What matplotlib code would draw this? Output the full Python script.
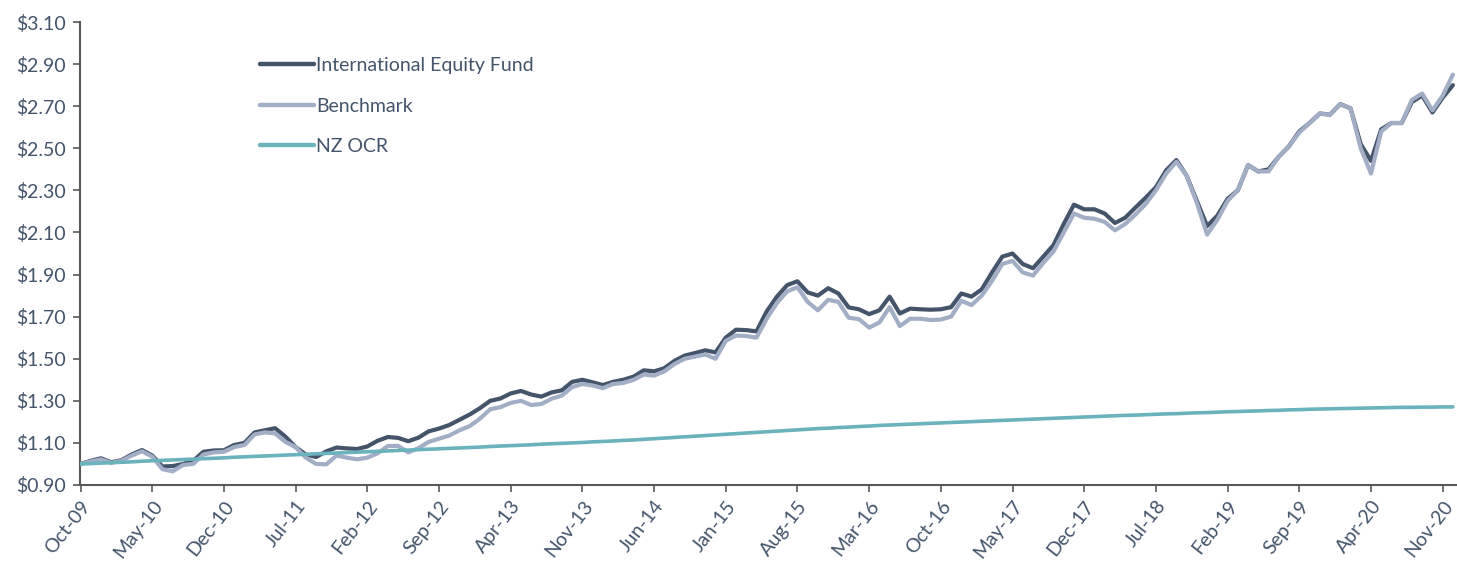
import matplotlib
matplotlib.use("Agg")
import matplotlib.pyplot as plt
import numpy as np

# Monthly index values, Oct-09 .. Dec-20
fund = [1.000, 1.015, 1.027, 1.008, 1.018, 1.045, 1.066, 1.040, 0.988, 0.990, 1.000, 1.015,
        1.058, 1.064, 1.065, 1.090, 1.100, 1.150, 1.160, 1.170, 1.130, 1.080, 1.045, 1.033,
        1.060, 1.078, 1.074, 1.071, 1.083, 1.110, 1.128, 1.124, 1.108, 1.125, 1.155, 1.168,
        1.185, 1.210, 1.235, 1.265, 1.300, 1.311, 1.335, 1.347, 1.330, 1.320, 1.340, 1.350,
        1.390, 1.400, 1.388, 1.375, 1.390, 1.400, 1.415, 1.445, 1.440, 1.455, 1.490, 1.515,
        1.527, 1.540, 1.530, 1.600, 1.638, 1.636, 1.630, 1.725, 1.795, 1.850, 1.868, 1.815,
        1.800, 1.835, 1.810, 1.744, 1.735, 1.712, 1.730, 1.795, 1.715, 1.738, 1.735, 1.733,
        1.735, 1.745, 1.810, 1.795, 1.830, 1.910, 1.985, 2.000, 1.950, 1.930, 1.985, 2.040,
        2.140, 2.232, 2.210, 2.210, 2.190, 2.145, 2.170, 2.218, 2.265, 2.315, 2.395, 2.444,
        2.370, 2.250, 2.130, 2.180, 2.260, 2.300, 2.420, 2.390, 2.400, 2.460, 2.510, 2.580,
        2.620, 2.665, 2.660, 2.710, 2.690, 2.520, 2.440, 2.590, 2.620, 2.620, 2.720, 2.750,
        2.670, 2.740, 2.800]

benchmark = [1.000, 1.012, 1.022, 1.005, 1.015, 1.040, 1.060, 1.035, 0.975, 0.965, 0.995, 1.000,
             1.045, 1.055, 1.058, 1.080, 1.090, 1.140, 1.150, 1.145, 1.105, 1.080, 1.030, 1.000,
             0.998, 1.040, 1.030, 1.022, 1.030, 1.050, 1.085, 1.086, 1.055, 1.075, 1.105, 1.120,
             1.135, 1.160, 1.180, 1.215, 1.260, 1.270, 1.290, 1.300, 1.280, 1.285, 1.310, 1.325,
             1.365, 1.380, 1.373, 1.360, 1.380, 1.385, 1.400, 1.425, 1.420, 1.440, 1.475, 1.500,
             1.510, 1.520, 1.500, 1.585, 1.610, 1.608, 1.600, 1.690, 1.765, 1.820, 1.840, 1.770,
             1.730, 1.780, 1.770, 1.695, 1.688, 1.648, 1.672, 1.745, 1.655, 1.690, 1.690, 1.684,
             1.686, 1.700, 1.775, 1.755, 1.800, 1.870, 1.950, 1.965, 1.910, 1.895, 1.955, 2.010,
             2.100, 2.190, 2.170, 2.165, 2.150, 2.110, 2.140, 2.185, 2.235, 2.300, 2.380, 2.436,
             2.370, 2.240, 2.090, 2.160, 2.250, 2.300, 2.420, 2.390, 2.390, 2.460, 2.510, 2.575,
             2.620, 2.665, 2.660, 2.710, 2.690, 2.500, 2.380, 2.580, 2.620, 2.620, 2.730, 2.760,
             2.680, 2.750, 2.850]

nz_ocr = [1.000, 1.002, 1.004, 1.006, 1.008, 1.010, 1.013, 1.015, 1.017, 1.019, 1.021, 1.023,
          1.025, 1.027, 1.029, 1.032, 1.034, 1.036, 1.038, 1.040, 1.042, 1.044, 1.046, 1.048,
          1.050, 1.052, 1.054, 1.056, 1.058, 1.060, 1.062, 1.064, 1.066, 1.068, 1.070, 1.072,
          1.074, 1.076, 1.078, 1.080, 1.083, 1.085, 1.087, 1.089, 1.091, 1.094, 1.096, 1.098,
          1.100, 1.102, 1.105, 1.107, 1.109, 1.112, 1.114, 1.117, 1.120, 1.123, 1.126, 1.129,
          1.132, 1.135, 1.138, 1.141, 1.144, 1.147, 1.150, 1.153, 1.156, 1.159, 1.162, 1.165,
          1.168, 1.170, 1.173, 1.175, 1.178, 1.180, 1.183, 1.185, 1.187, 1.189, 1.191, 1.193,
          1.195, 1.197, 1.199, 1.201, 1.203, 1.205, 1.207, 1.209, 1.211, 1.213, 1.215, 1.217,
          1.219, 1.221, 1.223, 1.225, 1.227, 1.229, 1.231, 1.232, 1.234, 1.236, 1.238, 1.239,
          1.241, 1.243, 1.244, 1.246, 1.248, 1.249, 1.251, 1.252, 1.254, 1.255, 1.257, 1.258,
          1.260, 1.261, 1.262, 1.263, 1.264, 1.265, 1.266, 1.267, 1.268, 1.269, 1.269, 1.270,
          1.270, 1.271, 1.271]

tick_labels = ["Oct-09", "May-10", "Dec-10", "Jul-11", "Feb-12", "Sep-12", "Apr-13", "Nov-13",
               "Jun-14", "Jan-15", "Aug-15", "Mar-16", "Oct-16", "May-17", "Dec-17", "Jul-18",
               "Feb-19", "Sep-19", "Apr-20", "Nov-20"]
y_ticks = [0.90, 1.10, 1.30, 1.50, 1.70, 1.90, 2.10, 2.30, 2.50, 2.70, 2.90, 3.10]

TEXT = "#44546A"
FUND_C = "#44546A"
BENCH_C = "#A2ADC6"
OCR_C = "#6AB2BC"
AXIS_C = "#595959"

plt.rcParams['font.family'] = ['Lato', 'DejaVu Sans']

fig = plt.figure(figsize=(14.57, 5.63), dpi=100)
ax = fig.add_axes([80 / 1457, 1 - 485 / 563, 1 - 80 / 1457, (485 - 22) / 563])

x = np.arange(len(fund))
ax.plot(x, fund, color=FUND_C, lw=3.0, solid_joinstyle='round', solid_capstyle='round',
        label="International Equity Fund", zorder=3)
ax.plot(x, benchmark, color=BENCH_C, lw=3.0, solid_joinstyle='round', solid_capstyle='round',
        label="Benchmark", zorder=4)
ax.plot(x, nz_ocr, color=OCR_C, lw=2.6, solid_joinstyle='round', solid_capstyle='round',
        label="NZ OCR", zorder=5)

ax.set_xlim(-0.05, 134.4)
ax.set_ylim(0.90, 3.10)

ax.set_yticks(y_ticks)
ax.set_yticklabels([f"${v:.2f}" for v in y_ticks])
ax.set_xticks(np.arange(0, 7 * len(tick_labels), 7))
ax.set_xticklabels(tick_labels, rotation=52, ha='right', rotation_mode='anchor')

for s in ['top', 'right']:
    ax.spines[s].set_visible(False)
for s in ['left', 'bottom']:
    ax.spines[s].set_color(AXIS_C)
    ax.spines[s].set_linewidth(1.5)
ax.tick_params(axis='both', colors=AXIS_C, width=1.2, length=5, labelcolor=TEXT, labelsize=14)
ax.tick_params(axis='x', pad=4)
ax.tick_params(axis='y', pad=5)

leg = ax.legend(loc='upper left', bbox_to_anchor=(172 / 1377, 1 - 27 / 463), frameon=False,
                fontsize=14, handlelength=2.8, handletextpad=0.1, labelspacing=1.22,
                borderaxespad=0)
for t in leg.get_texts():
    t.set_color(TEXT)
for h in leg.get_lines():
    h.set_linewidth(3.2)

fig.savefig("out.png", dpi=100, facecolor="white")
